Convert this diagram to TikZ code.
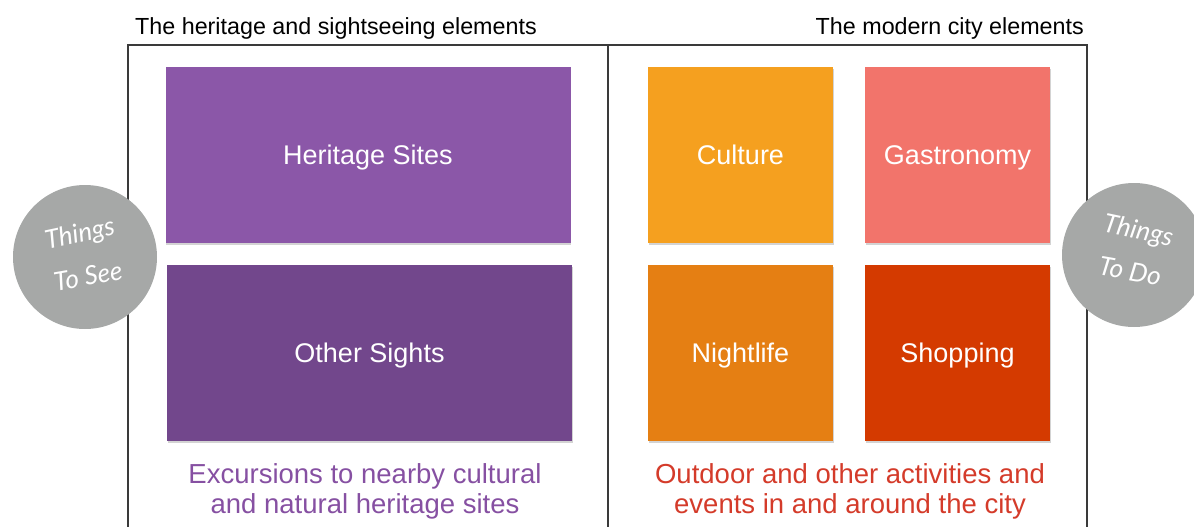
\documentclass[tikz,border=0pt]{standalone}
\usepackage{fontspec}
\setmainfont{Liberation Sans}
\newfontfamily\handfont{Lato}
\usetikzlibrary{shadows,positioning}
\definecolor{heritage}{HTML}{8B57A8}
\definecolor{othersights}{HTML}{72478C}
\definecolor{culture}{HTML}{F5A01F}
\definecolor{gastro}{HTML}{F2746B}
\definecolor{nightlife}{HTML}{E57F13}
\definecolor{shopping}{HTML}{D43A00}
\definecolor{seetext}{HTML}{8650A2}
\definecolor{dotext}{HTML}{D43B2A}
\definecolor{badge}{HTML}{A6A8A7}
\definecolor{frameline}{HTML}{3A3A3A}

\begin{document}
\begin{tikzpicture}[x=1pt,y=-1pt,
		tile/.style={rectangle, inner sep=0pt, text=white,
			font=\fontsize{27}{30}\selectfont, text height=19pt, text depth=0pt,
			drop shadow={shadow xshift=0.6pt, shadow yshift=-1.6pt, opacity=0.35}},
		wide/.style={tile, minimum width=405pt, minimum height=176pt},
		small/.style={tile, minimum width=185pt, minimum height=176pt},
		badgecircle/.style={circle, fill=badge, minimum size=144pt, inner sep=0pt},
		hand/.style={text=white, font=\handfont\itshape\fontsize{26}{28}\selectfont, inner sep=0pt},
		caption/.style={align=center, font=\fontsize{27.5}{30}\selectfont, inner sep=0pt},
		title/.style={font=\fontsize{23.3}{26}\selectfont, inner sep=0pt}]
		\useasboundingbox (0,0) rectangle (1194,527);
		% frame
		\coordinate (tl) at (128,45);
		\coordinate (tm) at (608,45);
		\coordinate (tr) at (1087,45);
		\draw [line width=1.5pt, frameline] (128,527) -- (tl) -- (tr) -- (1087,527);
		\draw [line width=1.5pt, frameline] (tm) -- (608,527);
		\node [title, anchor=base west] (seetitle) at (135,35) {The heritage and sightseeing elements};
		\node [title, anchor=base east] (dotitle) at (1084,35) {The modern city elements};
		% heritage side
		\node [wide, fill=heritage] (sites) at (368,155) {Heritage Sites};
		\node [wide, fill=othersights] (sights) at (369.5,353) {Other Sights};
		\node [caption, text=seetext, anchor=base] (seecap) at (365,513) {Excursions to nearby cultural\\and natural heritage sites};
		% modern side
		\node [small, fill=culture] (culture) at (740.5,155) {Culture};
		\node [small, fill=gastro] (gastro) at (957.5,155) {Gastronomy};
		\node [small, fill=nightlife] (nightlife) at (740.5,353) {Nightlife};
		\node [small, fill=shopping] (shopping) at (957.5,353) {Shopping};
		\node [caption, text=dotext, anchor=base] (docap) at (850,513) {Outdoor and other activities and\\events in and around the city};
		% badges
		\node [badgecircle] (see) at (85,257) {};
		\node [hand, rotate=12] (seeA) at (80,235) {Things};
		\node [hand, rotate=10] (seeB) at (88,276) {To See};
		\node [badgecircle] (do) at (1134,255) {};
		\node [hand, rotate=-12] (doA) at (1138,232) {Things};
		\node [hand, rotate=-10] (doB) at (1130,271) {To Do};
\end{tikzpicture}
\end{document}
